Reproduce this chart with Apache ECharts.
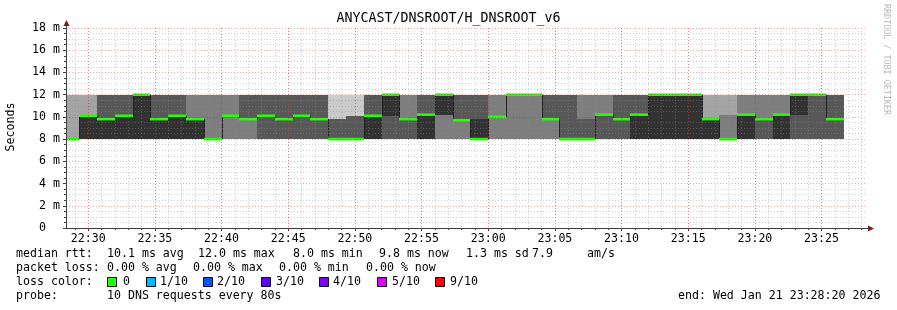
<!DOCTYPE html>
<html><head><meta charset="utf-8">
<script src="https://cdn.jsdelivr.net/npm/echarts@6/dist/echarts.min.js"></script>
<style>html,body{margin:0;padding:0;background:#fff}#c{width:897px;height:310px}</style>
</head><body><div id="c"></div>
<script>
// ---------- data ----------
const chartTitle = 'ANYCAST/DNSROOT/H_DNSROOT_v6';
const yAxisName = 'Seconds';
const yTickValues = [0, 2, 4, 6, 8, 10, 12, 14, 16, 18];
const yTickLabels = ['0  ', '2 m', '4 m', '6 m', '8 m', '10 m', '12 m', '14 m', '16 m', '18 m'];
const xTickLabels = ['22:30', '22:35', '22:40', '22:45', '22:50', '22:55', '23:00', '23:05', '23:10', '23:15', '23:20', '23:25'];
const viewStart = new Date(2026, 0, 21, 22, 28, 20).getTime();
const viewEnd = new Date(2026, 0, 21, 23, 28, 20).getTime();
const firstStepEnd = new Date(2026, 0, 21, 22, 29, 20).getTime();
const stepSeconds = 80;

// sorted ping RTTs (ms) per 80 s step, rank 1..10
const ping1 = [8,8,8,8,8,8,8,8,8,8,8,8,8,8,8,8,8,8,8,8,8,8,8,8,8,8,8,8,8,8,8,8,8,8,8,8,8,8,8,8,8,8,8,8];
const ping2 = [8,8,8,8,8,8,8,8,8,8,8,8,8,8,8,8,8,8,8,8,8,8,8,8,8,8,8,8,8,8,8,8,8,8,8,8,8,8,8,8,8,8,8,8];
const ping3 = [8,8,8,8,8,8,8,8,8,8,8,8,8,8,8,8,8,8,8,8,8,8,8,8,8,8,8,8,8,8,8,8,8,8,8,8,8,8,8,8,8,8,8,8];
const ping4 = [8,8,8,8,8,8,8,8,8,10.1,9.8,8,8,8,8,8,8,8,8,8,8,10.2,9.7,8,10.0,12,12,9.8,8,8,8,8,8,8,8,8,8,8,8,8,8,8,8,8];
const ping5 = [8,8,8,8,8,8,8,8,8,10.1,9.8,10.1,9.8,10.1,9.8,8,8,8,10.1,9.8,8,10.2,9.7,8,10.0,12,12,9.8,8,8,8,9.8,8,8,8,8,8,8,8,9.8,8,10.2,12,9.8];
const ping6 = [8,10.1,9.8,10.1,12,9.8,10.1,9.8,8,10.1,9.8,10.1,9.8,10.1,9.8,8,8,10.1,12,9.8,10.2,12,9.7,9.8,10.0,12,12,9.8,8,8,8,9.8,10.2,12,12,12,9.8,8,10.2,9.8,10.2,12,12,9.8];
const ping7 = [8,10.1,12,12,12,12,12,9.8,8,10.1,12,12,12,12,12,9.8,10.1,12,12,9.8,12,12,12,12,10.0,12,12,12,12,9.8,10.2,12,12,12,12,12,9.8,8,10.2,9.8,10.2,12,12,12];
const ping8 = [8,10.1,12,12,12,12,12,12,12,12,12,12,12,12,12,9.8,10.1,12,12,12,12,12,12,12,12,12,12,12,12,12,12,12,12,12,12,12,9.8,10.2,12,12,12,12,12,12];
const ping9 = [12,12,12,12,12,12,12,12,12,12,12,12,12,12,12,9.8,10.1,12,12,12,12,12,12,12,12,12,12,12,12,12,12,12,12,12,12,12,12,12,12,12,12,12,12,12];
const ping10 = [12,12,12,12,12,12,12,12,12,12,12,12,12,12,12,12,12,12,12,12,12,12,12,12,12,12,12,12,12,12,12,12,12,12,12,12,12,12,12,12,12,12,12,12];
const medianRtt = [8,10.1,9.8,10.1,12,9.8,10.1,9.8,8,10.1,9.8,10.1,9.8,10.1,9.8,8,8,10.1,12,9.8,10.2,12,9.7,8,10.0,12,12,9.8,8,8,10.2,9.8,10.2,12,12,12,9.8,8,10.2,9.8,10.2,12,12,9.8];
const lossCount = [0,0,0,0,0,0,0,0,0,0,0,0,0,0,0,0,0,0,0,0,0,0,0,0,0,0,0,0,0,0,0,0,0,0,0,0,0,0,0,0,0,0,0,0];

const lossLegend = ['0', '1/10', '2/10', '3/10', '4/10', '5/10', '9/10'];
const lossColors = ['#26ff00', '#00b8ff', '#0059ff', '#5e00ff', '#7e00ff', '#dd00ff', '#ff0000'];
const statLines = [
  ['median rtt:', '10.1 ms avg', '12.0 ms max', '8.0 ms min', '9.8 ms now', '1.3 ms sd', '7.9', 'am/s'],
  ['packet loss:', '0.00 % avg', '0.00 % max', '0.00 % min', '0.00 % now'],
  ['probe:', '10 DNS requests every 80s']
];
const endText = 'end: Wed Jan 21 23:28:20 2026';
const watermark = 'RRDTOOL / TOBI OETIKER';

// ---------- build ----------
const pings = [ping1, ping2, ping3, ping4, ping5, ping6, ping7, ping8, ping9, ping10];
const rows = medianRtt.map((m, i) => {
  const end = firstStepEnd + i * stepSeconds * 1000;
  const start = end - stepSeconds * 1000;
  return [start, end].concat(pings.map(p => p[i])).concat([m, i > 0 ? medianRtt[i - 1] : m, lossCount[i]]);
});
function hm(s) { const p = s.split(':'); return new Date(2026, 0, 21, +p[0], +p[1], 0).getTime(); }
const majorTicks = xTickLabels.map(hm);
const minorTicks = [];
for (let t = Math.ceil(viewStart / 60000) * 60000; t <= viewEnd; t += 60000) minorTicks.push(t);

const FONT = '"DejaVu Sans Mono", monospace';
const FS = 11.6;
function shade(k) { const g = Math.floor(190 / 5 * Math.abs(k - 6)) + 50; return 'rgb(' + g + ',' + g + ',' + g + ')'; }

const chart = echarts.init(document.getElementById('c'), null, { renderer: 'canvas' });
const graphics = [];
function txt(x, y, s) {
  graphics.push({ type: 'text', x: x, y: y, style: { text: s, font: FS + 'px ' + FONT, fill: '#000', align: 'left', verticalAlign: 'middle', textAlign: 'left', textVerticalAlign: 'middle' } });
}
graphics.push({ type: 'text', x: 448.5, y: 19, style: { text: chartTitle, font: '13.3px ' + FONT, fill: '#000', align: 'center', verticalAlign: 'middle', textAlign: 'center', textVerticalAlign: 'middle' } });
graphics.push({ type: 'text', x: 11, y: 127, rotation: Math.PI / 2, style: { text: yAxisName, font: FS + 'px ' + FONT, fill: '#000', align: 'center', verticalAlign: 'middle', textAlign: 'center', textVerticalAlign: 'middle' } });
graphics.push({ type: 'text', x: 886, y: 4, rotation: -Math.PI / 2, style: { text: watermark, font: '8.4px ' + FONT, fill: '#b8b8b8', align: 'left', verticalAlign: 'middle', textAlign: 'left', textVerticalAlign: 'middle' } });
graphics.push({ type: 'polygon', shape: { points: [[66.5, 20], [63.5, 26], [69.5, 26]] }, style: { fill: '#7a1f1f' } });
graphics.push({ type: 'polygon', shape: { points: [[874, 228.5], [868, 225.5], [868, 231.5]] }, style: { fill: '#7a1f1f' } });
graphics.push({ type: 'line', shape: { x1: 66.5, y1: 28, x2: 66.5, y2: 25 }, style: { stroke: '#404040', lineWidth: 1 } });
graphics.push({ type: 'line', shape: { x1: 866, y1: 228.5, x2: 869, y2: 228.5 }, style: { stroke: '#404040', lineWidth: 1 } });
const l1x = [16, 107, 198, 293, 379, 466, 532, 587];
statLines[0].forEach((s, i) => txt(l1x[i], 254, s));
const l2x = [16, 107, 193, 279, 366];
statLines[1].forEach((s, i) => txt(l2x[i], 268, s));
txt(16, 282, 'loss color:');
const boxX = [107, 146, 203, 261, 319, 377, 435];
const labX = [123, 160, 217, 276, 333, 392, 450];
lossLegend.forEach((s, i) => {
  graphics.push({ type: 'rect', shape: { x: boxX[i] + 0.5, y: 277.5, width: 9, height: 9 }, style: { fill: lossColors[i], stroke: '#000', lineWidth: 1 } });
  txt(labX[i], 282, s);
});
txt(16, 296, statLines[2][0]);
txt(107, 296, statLines[2][1]);
txt(678, 296, endText);

const option = {
  animation: false,
  backgroundColor: '#ffffff',
  grid: { left: 66, top: 28, width: 800, height: 200, show: false },
  xAxis: [{
    type: 'value', min: viewStart, max: viewEnd, z: 5,
    axisLine: { show: true, lineStyle: { color: '#404040', width: 1 } },
    axisTick: { show: true, length: 3, customValues: majorTicks, lineStyle: { color: '#404040' } },
    axisLabel: { color: '#000', fontFamily: FONT, fontSize: FS, margin: 5, hideOverlap: false, customValues: majorTicks,
      formatter: v => { const i = majorTicks.indexOf(v); return i >= 0 ? xTickLabels[i] : ''; } },
    splitLine: { show: true, lineStyle: { color: 'rgba(230,0,0,0.35)', type: [1, 2], width: 1 } }
  }, {
    type: 'value', min: viewStart, max: viewEnd, z: 4, position: 'bottom',
    axisLine: { show: false }, axisLabel: { show: false, customValues: minorTicks },
    axisTick: { show: true, length: 2, customValues: minorTicks, lineStyle: { color: '#404040' } },
    splitLine: { show: true, lineStyle: { color: 'rgba(140,140,140,0.4)', type: [1, 2], width: 1 } }
  }],
  yAxis: {
    type: 'value', min: 0, max: 18, interval: 2, z: 5,
    axisLine: { show: true, lineStyle: { color: '#404040', width: 1 } },
    axisTick: { show: true, length: 3, lineStyle: { color: '#404040' } },
    minorTick: { show: true, splitNumber: 4, length: 2, lineStyle: { color: '#404040' } },
    axisLabel: { color: '#000', fontFamily: FONT, fontSize: FS, margin: 6,
      formatter: v => { const i = yTickValues.indexOf(v); return i >= 0 ? yTickLabels[i] : ''; } },
    splitLine: { show: true, lineStyle: { color: 'rgba(230,0,0,0.35)', type: [1, 2], width: 1 } },
    minorSplitLine: { show: true, lineStyle: { color: 'rgba(140,140,140,0.4)', type: [1, 2], width: 1 } }
  },
  series: [{
    type: 'custom', xAxisIndex: 0, yAxisIndex: 0, z: 2,
    data: rows,
    encode: { x: [0, 1], y: [2, 3, 4, 5, 6, 7, 8, 9, 10, 11, 12] },
    renderItem: function (params, api) {
      const cs = params.coordSys;
      const t0 = api.value(0), t1 = api.value(1);
      let x0 = Math.max(api.coord([t0, 0])[0], cs.x);
      let x1 = Math.min(api.coord([t1, 0])[0], cs.x + cs.width);
      x0 = Math.round(x0); x1 = Math.round(x1);
      const children = [];
      for (let k = 2; k <= 10; k++) {
        const lo = api.value(k), hi = api.value(k + 1);
        if (hi > lo) {
          const yHi = Math.round(api.coord([t0, hi])[1]);
          const yLo = Math.round(api.coord([t0, lo])[1]);
          children.push({ type: 'rect', shape: { x: x0, y: yHi, width: x1 - x0, height: yLo - yHi }, style: { fill: shade(k) } });
        }
      }
      const med = api.value(12), prev = api.value(13);
      const yM = api.coord([t0, med])[1];
      const yP = api.coord([t0, prev])[1];
      if (prev !== med && params.dataIndex > 0) {
        children.push({ type: 'line', shape: { x1: x0 + 0.5, y1: yP, x2: x0 + 0.5, y2: yM }, style: { stroke: '#202020', lineWidth: 1 } });
      }
      const lc = lossColors[Math.min(api.value(14), lossColors.length - 1)];
      children.push({ type: 'rect', shape: { x: x0, y: yM - 1.3, width: x1 - x0, height: 2.6 }, style: { fill: lc } });
      return { type: 'group', children: children };
    }
  }],
  graphic: { elements: graphics }
};
chart.setOption(option);
</script></body></html>
